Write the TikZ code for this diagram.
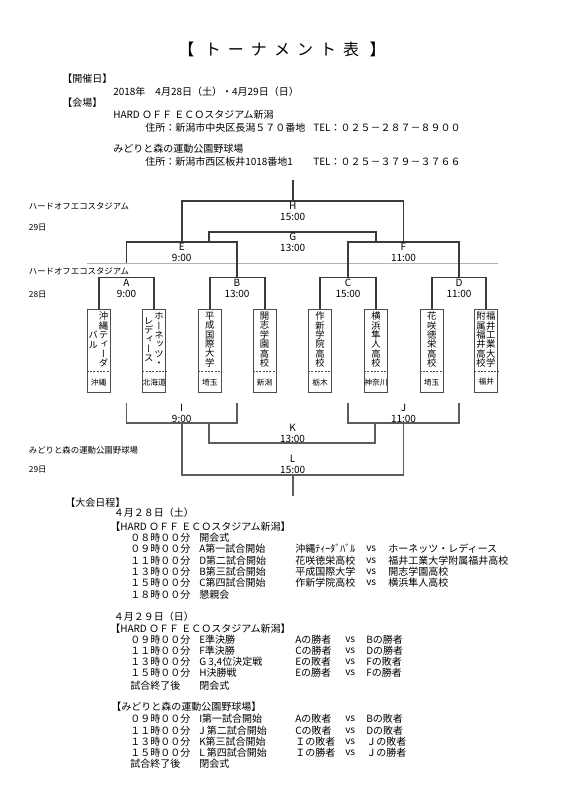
\documentclass[tikz,border=0pt]{standalone}
\usepackage{fontspec}
\setmainfont{Noto Sans CJK JP}
\newfontfamily\tatefont[RawFeature=+vert]{Noto Sans CJK JP}
\newfontfamily\titlefont[LetterSpace=44]{Noto Sans CJK JP}

\definecolor{bracketgray}{RGB}{58,58,58}
\definecolor{lowergray}{RGB}{92,92,92}
\definecolor{boxgray}{RGB}{76,76,76}

\begin{document}
\begin{tikzpicture}[x=.75pt,y=-.75pt,
    txt/.style={anchor=west,inner sep=0pt,font=\fontsize{7.5}{9}\selectfont},
    venue/.style={anchor=west,inner sep=0pt,font=\fontsize{6.3}{7}\selectfont},
    matchlbl/.style={align=center,inner sep=0pt,font=\fontsize{7.5}{8.25}\selectfont},
    lblbelow/.style={matchlbl,yshift=-7.9pt},
    lblabove/.style={matchlbl,yshift=7.6pt},
    bline/.style={draw=bracketgray,line width=1.4pt},
    lline/.style={draw=lowergray,line width=1.4pt},
    teambox/.style={draw=boxgray,line width=.6pt,minimum width=17.25pt,
      minimum height=62.6pt,inner sep=0pt},
    tate/.style={align=center,inner sep=0pt,
      font=\tatefont\fontsize{7}{7.05}\selectfont},
    pref/.style={inner sep=0pt,font=\fontsize{5.8}{6}\selectfont},
  ]
  \fill[white] (0,0) rectangle (562,800);
  \useasboundingbox (0,0) rectangle (562,800);

  % title and general information
  \node[inner sep=0pt,font=\titlefont\fontsize{12}{14}\selectfont] (title)
    at (282,49) {【 トーナメント表 】};
  \node[txt] (held) at (62,79) {【開催日】};
  \node[txt] (dates) at (113,91.5) {2018年　4月28日（土）・4月29日（日）};
  \node[txt] (place) at (62,103) {【会場】};
  \node[txt] (venue1) at (113,115) {HARD ＯＦＦ ＥＣＯスタジアム新潟};
  \node[txt] (addr1) at (145,128) {住所：新潟市中央区長潟５７０番地};
  \node[txt] (tel1) at (313,128) {TEL：０２５－２８７－８９００};
  \node[txt] (venue2) at (113,149) {みどりと森の運動公園野球場};
  \node[txt] (addr2) at (145,162) {住所：新潟市西区板井1018番地1};
  \node[txt] (tel2) at (313,162) {TEL：０２５－３７９－３７６６};

  % venue / day labels at the left
  \node[venue] (hall29) at (28.6,206.7) {ハードオフエコスタジアム};
  \node[venue] (day29a) at (28.6,227.3) {29日};
  \node[venue] (hall28) at (28.6,271) {ハードオフエコスタジアム};
  \node[venue] (day28) at (28.6,294.3) {28日};
  \node[venue] (park29) at (28.6,450) {みどりと森の運動公園野球場};
  \node[venue] (day29b) at (28.6,470) {29日};

  \draw[gray!60,line width=.4pt] (87,263) -- (498,263);

  % teams
  \foreach \i/\x/\p in {1/98.7/沖縄,2/154.3/北海道,3/209.8/埼玉,4/264.6/新潟,
      5/320/栃木,6/376/神奈川,7/431.7/埼玉,8/486.3/福井} {
    \node[teambox] (t\i) at (\x,350.75) {};
    \draw[boxgray,line width=.5pt,dash pattern=on 1.5pt off 1pt]
      ([yshift=16.1pt]t\i.south west) -- ([yshift=16.1pt]t\i.south east);
    \node[pref] (p\i) at ([yshift=8.1pt]t\i.south) {\p};
  }
  \node[tate] (n1r) at ([xshift=3.6pt,yshift=-23.25pt]t1.north)
    {沖\\縄\\テ\\ィ\\ー\\ダ};
  \node[tate] (n1l) at ([xshift=-4.1pt,yshift=-23.25pt]t1.north) {バ\\ル};
  \node[tate] (n2r) at ([xshift=3.6pt,yshift=-23.25pt]t2.north)
    {ホ\\ー\\ネ\\ッ\\ツ\\・};
  \node[tate] (n2l) at ([xshift=-4.1pt,yshift=-23.25pt]t2.north)
    {レ\\デ\\ィ\\ー\\ス};
  \node[tate] (n3) at ([yshift=-23.25pt]t3.north) {平\\成\\国\\際\\大\\学};
  \node[tate] (n4) at ([yshift=-23.25pt]t4.north) {開\\志\\学\\園\\高\\校};
  \node[tate] (n5) at ([yshift=-23.25pt]t5.north) {作\\新\\学\\院\\高\\校};
  \node[tate] (n6) at ([yshift=-23.25pt]t6.north) {横\\浜\\隼\\人\\高\\校};
  \node[tate] (n7) at ([yshift=-23.25pt]t7.north) {花\\咲\\徳\\栄\\高\\校};
  \node[tate] (n8r) at ([xshift=3.3pt,yshift=-23.25pt]t8.north)
    {福\\井\\工\\業\\大\\学};
  \node[tate] (n8l) at ([xshift=-3.9pt,yshift=-23.25pt]t8.north)
    {附\\属\\福\\井\\高\\校};

  % upper bracket (28th / 29th at the stadium)
  \coordinate (A) at (126.5,277.5);
  \coordinate (B) at (237,277.5);
  \coordinate (C) at (348,277.5);
  \coordinate (D) at (459,277.5);
  \coordinate (E) at (181.7,242);
  \coordinate (F) at (403.5,242);
  \coordinate (Ecut) at (126.5,263);
  \coordinate (Eloss) at (209,242);
  \coordinate (Floss) at (376,242);
  \coordinate (G) at (292.7,232);
  \coordinate (H) at (292.7,201);
  \coordinate (Htop) at (292.7,180);
  \draw[bline] (t1.north) |- (A) -| (t2.north);
  \draw[bline] (t3.north) |- (B) -| (t4.north);
  \draw[bline] (t5.north) |- (C) -| (t6.north);
  \draw[bline] (t7.north) |- (D) -| (t8.north);
  \draw[bline] (Ecut) |- (E) -| (B);
  \draw[bline] (C) |- (F) -| (D);
  \draw[bline] (Eloss) |- (G) -| (Floss);
  \draw[bline] (E) |- (H) -| (F);
  \draw[bline] (H) -- (Htop);
  \node[lblbelow] (Al) at (A) {A\\9:00};
  \node[lblbelow] (Bl) at (B) {B\\13:00};
  \node[lblbelow] (Cl) at (C) {C\\15:00};
  \node[lblbelow] (Dl) at (D) {D\\11:00};
  \node[lblbelow] (El) at (E) {E\\9:00};
  \node[lblbelow] (Fl) at (F) {F\\11:00};
  \node[lblbelow] (Gl) at (G) {G\\13:00};
  \node[lblbelow] (Hl) at (H) {H\\15:00};

  % lower bracket (29th at the park)
  \coordinate (Aloss) at (126.5,402.7);
  \coordinate (Bloss) at (237,402.7);
  \coordinate (Closs) at (348,402.7);
  \coordinate (Dloss) at (459,402.7);
  \coordinate (I) at (181.7,423.3);
  \coordinate (J) at (403.5,423.3);
  \coordinate (Iloss) at (209.3,423.3);
  \coordinate (Jloss) at (375,423.3);
  \coordinate (K) at (292.5,443.3);
  \coordinate (L) at (292.7,475);
  \coordinate (Lend) at (292.7,496);
  \draw[lline] (Aloss) |- (I) -| (Bloss);
  \draw[lline] (Closs) |- (J) -| (Dloss);
  \draw[lline] (Iloss) |- (K) -| (Jloss);
  \draw[lline] (I) |- (L) -| (J);
  \draw[lline] (L) -- (Lend);
  \node[lblabove] (Il) at (I) {I\\9:00};
  \node[lblabove] (Jl) at (J) {J\\11:00};
  \node[lblabove] (Kl) at (K) {K\\13:00};
  \node[lblabove] (Ll) at (L) {L\\15:00};

  % schedule
  \node[txt] (sched) at (65,503) {【大会日程】};
  \node[txt] (day1) at (113.5,513) {４月２８日（土）};
  \node[txt] (hall1) at (110,527) {【HARD ＯＦＦ ＥＣＯスタジアム新潟】};
  \node[txt] (s1t0) at (130,538) {０８時００分};
  \node[txt] (s1e0) at (199,538) {開会式};
  \foreach \i/\y/\tm/\ev/\p/\q in {
      1/549/０９時００分/A第一試合開始/沖縄ﾃｨｰﾀﾞﾊﾞﾙ/ホーネッツ・レディース,
      2/561/１１時００分/D第二試合開始/花咲徳栄高校/福井工業大学附属福井高校,
      3/572/１３時００分/B第三試合開始/平成国際大学/開志学園高校,
      4/583/１５時００分/C第四試合開始/作新学院高校/横浜隼人高校} {
    \node[txt] (s1t\i) at (130,\y) {\tm};
    \node[txt] (s1e\i) at (199,\y) {\ev};
    \node[txt] (s1p\i) at (295,\y) {\p};
    \node[txt] (s1v\i) at (366,\y) {vs};
    \node[txt] (s1q\i) at (388,\y) {\q};
  }
  \node[txt] (s1t5) at (130,595) {１８時００分};
  \node[txt] (s1e5) at (199,595) {懇親会};

  \node[txt] (day2) at (113.5,617) {４月２９日（日）};
  \node[txt] (hall2) at (110,629) {【HARD ＯＦＦ ＥＣＯスタジアム新潟】};
  \foreach \i/\y/\tm/\ev/\p/\q in {
      1/640/０９時００分/E準決勝/Aの勝者/Bの勝者,
      2/651/１１時００分/F準決勝/Cの勝者/Dの勝者,
      3/662/１３時００分/{G 3,4位決定戦}/Eの敗者/Fの敗者,
      4/673/１５時００分/H決勝戦/Eの勝者/Fの勝者,
      5/719/０９時００分/I第一試合開始/Aの敗者/Bの敗者,
      6/731/１１時００分/J 第二試合開始/Cの敗者/Dの敗者,
      7/742/１３時００分/K第三試合開始/Ｉの敗者/Ｊの敗者,
      8/753/１５時００分/L 第四試合開始/Ｉの勝者/Ｊの勝者} {
    \node[txt] (s2t\i) at (130,\y) {\tm};
    \node[txt] (s2e\i) at (199,\y) {\ev};
    \node[txt] (s2p\i) at (295,\y) {\p};
    \node[txt] (s2v\i) at (345,\y) {vs};
    \node[txt] (s2q\i) at (366,\y) {\q};
  }
  \node[txt] (s2t0) at (130,686) {試合終了後};
  \node[txt] (s2e0) at (199,686) {閉会式};
  \node[txt] (hall3) at (111,707) {【みどりと森の運動公園野球場】};
  \node[txt] (s3t0) at (130,764) {試合終了後};
  \node[txt] (s3e0) at (199,764) {閉会式};
\end{tikzpicture}
\end{document}
